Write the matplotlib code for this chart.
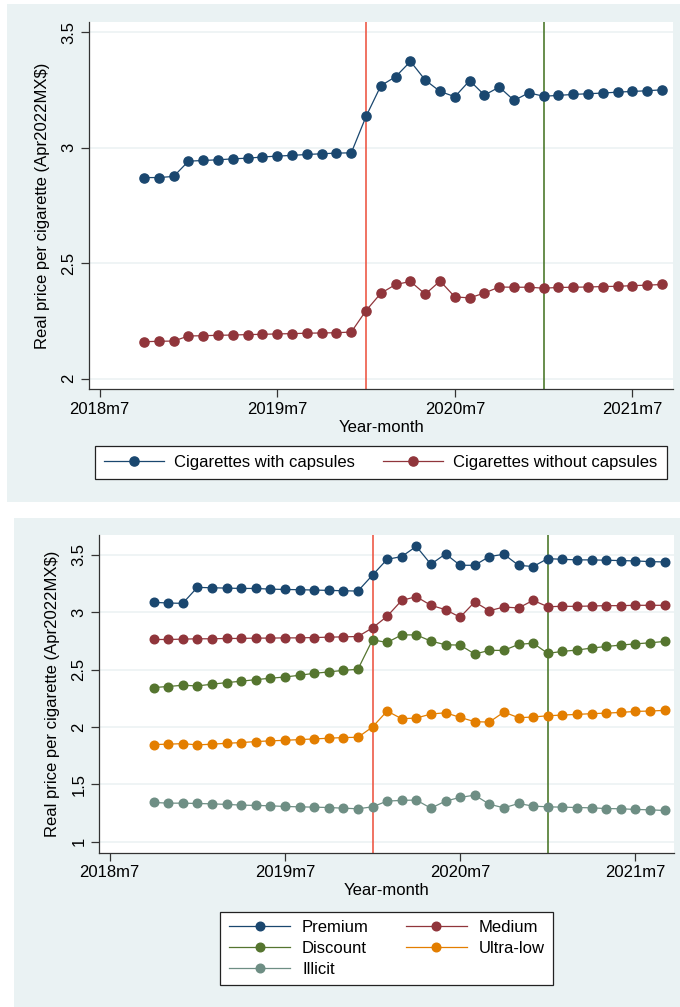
import numpy as np
import pandas as pd
import matplotlib
matplotlib.use("Agg")
import matplotlib.pyplot as plt
from matplotlib.patches import Rectangle

plt.rcParams['font.family'] = ['Liberation Sans', 'DejaVu Sans']

# monthly observations, 2018m10 .. 2021m9
months = pd.period_range('2018-10', '2021-09', freq='M')
tick_labels = ["2018m7", "2019m7", "2020m7", "2021m7"]
vline_months = ["2020m1", "2021m1"]

with_caps = [2.871, 2.871, 2.876, 2.942, 2.945, 2.948, 2.952, 2.955, 2.960, 2.964,
             2.967, 2.971, 2.974, 2.977, 2.978, 3.136, 3.269, 3.308, 3.374, 3.293,
             3.244, 3.221, 3.291, 3.228, 3.263, 3.205, 3.238, 3.223, 3.227, 3.231,
             3.234, 3.237, 3.241, 3.244, 3.247, 3.251]
without_caps = [2.160, 2.162, 2.163, 2.185, 2.186, 2.188, 2.189, 2.191, 2.192, 2.194,
                2.195, 2.197, 2.198, 2.199, 2.202, 2.295, 2.370, 2.408, 2.421, 2.366,
                2.423, 2.354, 2.350, 2.371, 2.397, 2.396, 2.396, 2.392, 2.395, 2.396,
                2.397, 2.399, 2.400, 2.403, 2.405, 2.408]

premium = [3.087, 3.081, 3.078, 3.217, 3.214, 3.211, 3.208, 3.208, 3.202, 3.199,
           3.197, 3.194, 3.191, 3.188, 3.185, 3.324, 3.462, 3.486, 3.575, 3.419,
           3.509, 3.410, 3.410, 3.486, 3.506, 3.410, 3.399, 3.468, 3.462, 3.457,
           3.457, 3.454, 3.451, 3.448, 3.442, 3.439]
medium = [2.763, 2.763, 2.766, 2.769, 2.769, 2.772, 2.772, 2.775, 2.775, 2.777,
          2.777, 2.780, 2.783, 2.786, 2.789, 2.864, 2.965, 3.104, 3.136, 3.061,
          3.023, 2.957, 3.090, 3.014, 3.046, 3.038, 3.104, 3.049, 3.052, 3.052,
          3.055, 3.058, 3.058, 3.061, 3.061, 3.061]
discount = [2.344, 2.353, 2.364, 2.358, 2.373, 2.387, 2.399, 2.413, 2.425, 2.436,
            2.451, 2.468, 2.480, 2.494, 2.503, 2.760, 2.737, 2.803, 2.803, 2.749,
            2.717, 2.714, 2.636, 2.668, 2.668, 2.720, 2.731, 2.642, 2.659, 2.671,
            2.688, 2.702, 2.714, 2.725, 2.734, 2.746]
ultra_low = [1.847, 1.850, 1.855, 1.844, 1.850, 1.858, 1.864, 1.873, 1.879, 1.884,
             1.890, 1.896, 1.902, 1.908, 1.910, 2.000, 2.139, 2.072, 2.078, 2.113,
             2.124, 2.084, 2.046, 2.043, 2.130, 2.081, 2.087, 2.098, 2.104, 2.110,
             2.116, 2.121, 2.127, 2.136, 2.139, 2.145]
illicit = [1.342, 1.336, 1.336, 1.333, 1.330, 1.325, 1.319, 1.316, 1.313, 1.307,
           1.304, 1.301, 1.298, 1.292, 1.287, 1.304, 1.354, 1.360, 1.363, 1.292,
           1.354, 1.386, 1.406, 1.327, 1.295, 1.333, 1.310, 1.304, 1.301, 1.298,
           1.295, 1.289, 1.287, 1.281, 1.278, 1.272]

NAVY, MAROON, FOREST, ORANGE, TEAL = "#1A476F", "#90353B", "#55752F", "#E37E00", "#6E8E84"
BG = "#EAF2F3"


def midx(label):
    # month index counted from 2018m7
    y, m = label.split("m")
    return (int(y) - 2018) * 12 + int(m) - 7


x = np.array([(p.year - 2018) * 12 + p.month - 7 for p in months])

W, H = 680, 1007
fig = plt.figure(figsize=(W / 100, H / 100), dpi=100)
fig.patch.set_facecolor("white")
fig.patches.append(Rectangle((6.7 / W, 1 - 501.7 / H), 1, (501.7 - 4) / H,
                             transform=fig.transFigure, facecolor=BG, edgecolor="none", zorder=-10))
fig.patches.append(Rectangle((14 / W, 0), 1, 1 - 517.7 / H,
                             transform=fig.transFigure, facecolor=BG, edgecolor="none", zorder=-10))


def style_axes(ax, yticks, ylim, xlim):
    ax.set_facecolor("white")
    ax.set_xlim(*xlim)
    ax.set_ylim(*ylim)
    ax.set_yticks(yticks)
    ax.set_yticklabels(["%g" % t for t in yticks], rotation=90, va="center")
    ax.set_xticks([midx(t) for t in tick_labels])
    ax.set_xticklabels(tick_labels)
    ax.tick_params(axis="both", labelsize=12, length=6, width=0.9, color="#333333", pad=3)
    for side in ["top", "right"]:
        ax.spines[side].set_visible(False)
    for side in ["left", "bottom"]:
        ax.spines[side].set_color("#333333")
        ax.spines[side].set_linewidth(0.9)
    for t in yticks:
        ax.axhline(t, color="#EEF3F4", lw=1.3, zorder=0)
    ax.axvline(midx(vline_months[0]), color="#EE5A48", lw=1.2, zorder=1)
    ax.axvline(midx(vline_months[1]), color="#4E7A2E", lw=1.2, zorder=1)
    ax.set_xlabel("Year-month", fontsize=12, labelpad=2)
    ax.set_ylabel("Real price per cigarette (Apr2022MX$)", fontsize=12, labelpad=8)


def series(ax, vals, color, label, ms=6.6):
    return ax.plot(x, vals, color=color, lw=0.9, marker="o", ms=ms, mec=color,
                   mfc=color, label=label, zorder=3)[0]


# top panel
ax1 = fig.add_axes([88.9 / W, 1 - 389.3 / H, (673.3 - 88.9) / W, (389.3 - 21.7) / H])
style_axes(ax1, [2, 2.5, 3, 3.5], (1.954, 3.546), (-0.73, 38.76))
h1 = series(ax1, with_caps, NAVY, "Cigarettes with capsules")
h2 = series(ax1, without_caps, MAROON, "Cigarettes without capsules")
leg1 = fig.legend(handles=[h1, h2], loc="center", bbox_to_anchor=(380.8 / W, 1 - 462.5 / H),
                  ncol=2, fontsize=12, frameon=True, fancybox=False, framealpha=1,
                  edgecolor="#222222", handlelength=3.6, handletextpad=0.6,
                  columnspacing=1.7, borderpad=0.55, borderaxespad=0)
leg1.get_frame().set_linewidth(0.9)

# bottom panel
ax2 = fig.add_axes([98.9 / W, 1 - 852.7 / H, (674 - 98.9) / W, (852.7 - 535) / H])
style_axes(ax2, [1, 1.5, 2, 2.5, 3, 3.5], (0.904, 3.674), (-0.74, 38.65))
hp = series(ax2, premium, NAVY, "Premium", 6.2)
hm = series(ax2, medium, MAROON, "Medium", 6.2)
hd = series(ax2, discount, FOREST, "Discount", 6.2)
hu = series(ax2, ultra_low, ORANGE, "Ultra-low", 6.2)
hi = series(ax2, illicit, TEAL, "Illicit", 6.2)
leg2 = fig.legend(handles=[hp, hd, hi, hm, hu], loc="center",
                  bbox_to_anchor=(386.8 / W, 1 - 948.6 / H),
                  ncol=2, fontsize=12, frameon=True, fancybox=False, framealpha=1,
                  edgecolor="#222222", handlelength=3.7, handletextpad=0.7,
                  columnspacing=2.2, labelspacing=0.35, borderpad=0.5, borderaxespad=0)
leg2.get_frame().set_linewidth(0.9)

fig.savefig("out.png", dpi=100, facecolor="white")
